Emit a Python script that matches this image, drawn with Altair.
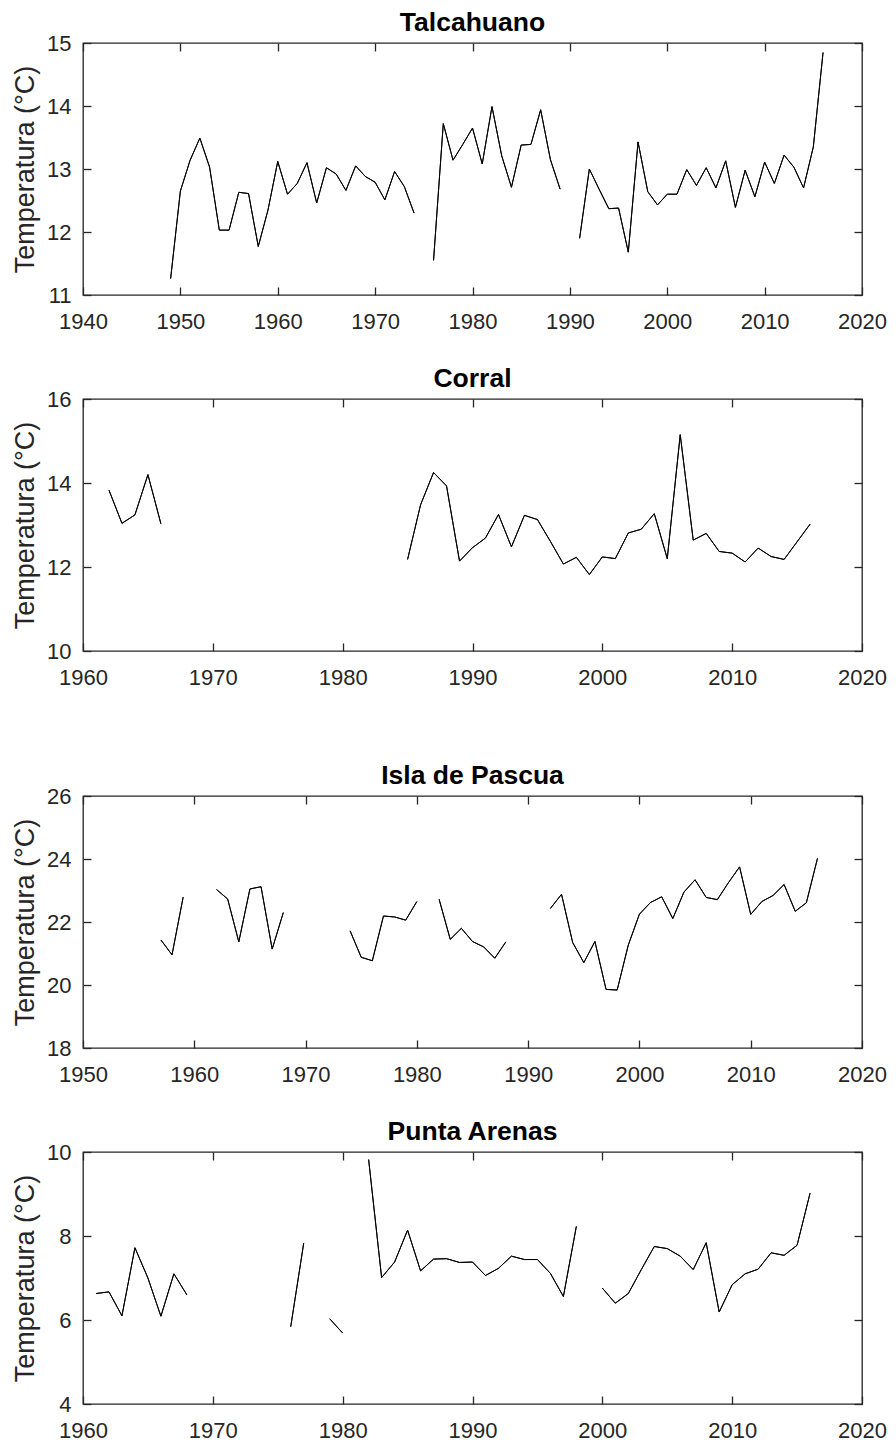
import altair as alt
import pandas as pd

# ---------------- data ----------------
tal_years = list(range(1949, 2017))
tal_temp = [11.26, 12.65, 13.14, 13.49, 13.03, 12.03, 12.03, 12.63, 12.61, 11.77,
            12.35, 13.12, 12.60, 12.77, 13.10, 12.46, 13.02, 12.92, 12.66, 13.05,
            12.88, 12.79, 12.51, 12.96, 12.72, 12.30, None, 11.55, 13.72, 13.14,
            13.39, 13.65, 13.08, 13.99, 13.21, 12.71, 13.38, 13.39, 13.94, 13.15,
            12.68, None, 11.90, 13.00, 12.68, 12.37, 12.38, 11.68, 13.43, 12.64,
            12.43, 12.60, 12.60, 12.99, 12.74, 13.02, 12.70, 13.13, 12.39, 12.98,
            12.56, 13.11, 12.77, 13.22, 13.03, 12.70, 13.35, 14.85]

cor_years = list(range(1962, 1968)) + list(range(1985, 2015)) + [2016]
cor_temp = [13.83, 13.04, 13.24, 14.20, 13.03, None,
            12.18, 13.48, 14.25, 13.93, 12.14, 12.46, 12.69, 13.25, 12.48, 13.23,
            13.13, 12.61, 12.07, 12.23, 11.82, 12.24, 12.20, 12.81, 12.90, 13.27,
            12.20, 15.15, 12.64, 12.80, 12.37, 12.33, 12.12, 12.45, 12.25, 12.18,
            13.02]

isl_years = list(range(1957, 2017))
isl_temp = [21.43, 20.96, 22.79, None, None,
            23.03, 22.73, 21.37, 23.05, 23.12, 21.14, 22.30,
            None, None, None, None, None,
            21.72, 20.88, 20.77, 22.19, 22.16, 22.06, 22.65,
            None,
            22.72, 21.45, 21.80, 21.38, 21.21, 20.85, 21.37,
            None, None, None,
            22.43, 22.88, 21.35, 20.71, 21.38, 19.86, 19.84, 21.27, 22.25, 22.62,
            22.80, 22.11, 22.95, 23.34, 22.78, 22.71, 23.25, 23.75, 22.24, 22.65,
            22.84, 23.19, 22.34, 22.61, 24.02]

pun_years = list(range(1961, 2017))
pun_temp = [6.63, 6.67, 6.10, 7.72, 7.00, 6.09, 7.10, 6.60,
            None, None, None, None, None, None, None,
            5.84, 7.83,
            None,
            6.03, 5.69,
            None,
            9.82, 7.01, 7.38, 8.14, 7.17, 7.45, 7.46, 7.37, 7.38, 7.06, 7.23,
            7.52, 7.44, 7.44, 7.11, 6.56, 8.23,
            None,
            6.76, 6.40, 6.63, 7.20, 7.75, 7.70, 7.52, 7.20, 7.84, 6.19, 6.84,
            7.10, 7.21, 7.60, 7.54, 7.78, 9.02]

stations = ["Talcahuano", "Corral", "Isla de Pascua", "Punta Arenas"]
y_domains = [(11, 15, 1), (10, 16, 2), (18, 26, 2), (4, 10, 2)]
x_starts = [1940, 1960, 1950, 1960]

FONT = "Liberation Sans"
AX = "#262626"
W, H = 779, 252


def make_df(years, temps):
    seg, rows = 0, []
    for y, t in zip(years, temps):
        if t is None:
            seg += 1
            continue
        rows.append({"year": y, "temp": t, "seg": seg})
    return pd.DataFrame(rows)


common_axis = dict(tickSize=8, offset=-8, domain=False, grid=False,
                   tickColor=AX, tickWidth=1.3, labelColor=AX,
                   labelFont=FONT, labelFontSize=22, minExtent=0,
                   labelFlush=False)


def panel(name, years, temps, ydom, xstart):
    df = make_df(years, temps)
    y0, y1, ys = ydom
    xticks = list(range(xstart, 2021, 10))
    yticks = list(range(y0, y1 + 1, ys))
    xs = alt.Scale(domain=[xstart, 2020], nice=False, zero=False)
    yscale = alt.Scale(domain=[y0, y1], nice=False, zero=False)
    base = alt.Chart(df).mark_line(color="black", strokeWidth=1)
    main = base.encode(
        x=alt.X("year:Q", scale=xs, title=None,
                axis=alt.Axis(orient="bottom", values=xticks, format="d",
                              labelPadding=16, **common_axis)),
        y=alt.Y("temp:Q", scale=yscale,
                axis=alt.Axis(orient="left", values=yticks, format="d",
                              labelPadding=12, title="Temperatura (°C)",
                              titleFont=FONT, titleFontSize=27,
                              titleFontWeight="normal", titleColor=AX,
                              titlePadding=7, **common_axis)),
        detail="seg:N",
    )
    mirror = base.encode(
        x=alt.X("year:Q", scale=xs, title=None,
                axis=alt.Axis(orient="top", values=xticks, labels=False,
                              maxExtent=0, **common_axis)),
        y=alt.Y("temp:Q", scale=yscale, title=None,
                axis=alt.Axis(orient="right", values=yticks, labels=False,
                              maxExtent=0, **common_axis)),
        detail="seg:N",
    )
    return alt.layer(main, mirror).resolve_axis(
        x="independent", y="independent"
    ).properties(
        width=W, height=H,
        title=alt.TitleParams(name, font=FONT, fontSize=26.5, fontWeight="bold",
                              color="black", baseline="top", offset=-4,
                              anchor="middle"),
    )


p = [panel(s, yrs, tmp, yd, xs0) for s, yrs, tmp, yd, xs0 in zip(
    stations,
    [tal_years, cor_years, isl_years, pun_years],
    [tal_temp, cor_temp, isl_temp, pun_temp],
    y_domains, x_starts)]

SP = 31
top = alt.vconcat(p[0], p[1], spacing=SP)
bottom = alt.vconcat(p[2], p[3], spacing=SP)
chart = alt.vconcat(top, bottom, spacing=SP + 41).properties(
    padding={"left": 2, "top": 0, "right": 0, "bottom": 0},
    background="white",
).configure_view(stroke=AX, strokeWidth=1.3)

chart.save("out.html", embed_options={"renderer": "svg", "actions": False})
